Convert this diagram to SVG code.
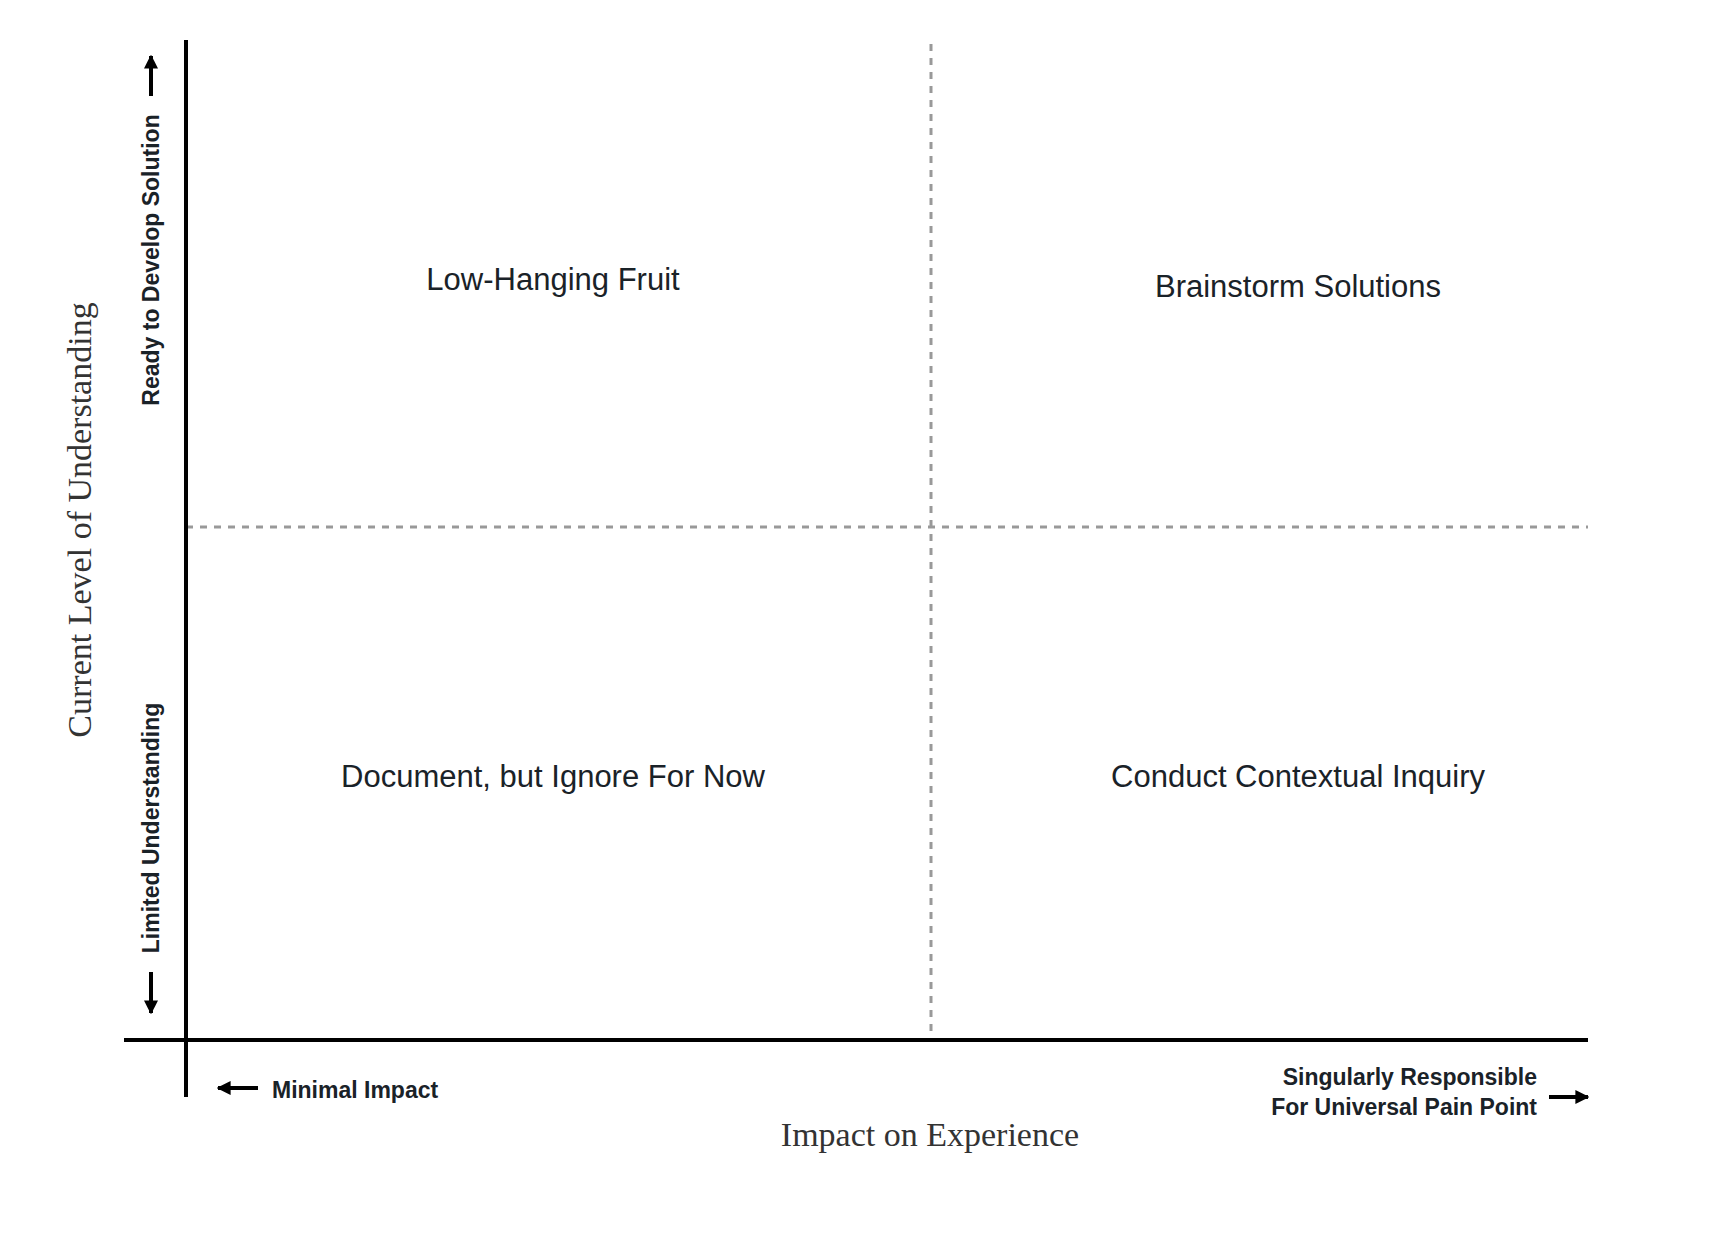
<svg xmlns="http://www.w3.org/2000/svg" width="1732" height="1238" viewBox="0 0 1732 1238">
<style>
.q{font-family:"Liberation Sans",Arial,sans-serif;font-size:31px;fill:#1a2228;text-anchor:middle}
.b{font-family:"Liberation Sans",Arial,sans-serif;font-size:23px;font-weight:bold;fill:#1a2228}
.s{font-family:"Liberation Serif","DejaVu Serif",serif;font-size:34px;fill:#333;text-anchor:middle}
.ax{stroke:#000;stroke-width:4;fill:none}
.d{stroke:#999;stroke-width:3;stroke-dasharray:7 7;fill:none}
</style>
<defs><marker id="ah" viewBox="0 0 10 10" refX="9" refY="5" markerWidth="3.5" markerHeight="3.5" orient="auto" markerUnits="strokeWidth"><path d="M0,0L10,5L0,10z" fill="#000"/></marker></defs>
<g id="connectors">
<line class="d" x1="931" y1="44" x2="931" y2="1040"/>
<line class="d" x1="186" y1="527" x2="1588" y2="527"/>
<line class="ax" x1="186" y1="40" x2="186" y2="1097"/>
<line class="ax" x1="124" y1="1040" x2="1588" y2="1040"/>
<line class="ax" x1="151" y1="96" x2="151" y2="56" marker-end="url(#ah)"/>
<line class="ax" x1="151" y1="972" x2="151" y2="1013" marker-end="url(#ah)"/>
<line class="ax" x1="258" y1="1088" x2="218" y2="1088" marker-end="url(#ah)"/>
<line class="ax" x1="1549" y1="1097" x2="1588" y2="1097" marker-end="url(#ah)"/>
</g>
<g id="q1"><text class="q" x="553" y="290">Low-Hanging Fruit</text></g>
<g id="q2"><text class="q" x="1298" y="297">Brainstorm Solutions</text></g>
<g id="q3"><text class="q" x="553" y="787">Document, but Ignore For Now</text></g>
<g id="q4"><text class="q" x="1298" y="787">Conduct Contextual Inquiry</text></g>
<g id="labels">
<text class="s" transform="translate(91,520) rotate(-90)">Current Level of Understanding</text>
<text class="b" text-anchor="middle" transform="translate(159,260) rotate(-90)">Ready to Develop Solution</text>
<text class="b" text-anchor="middle" transform="translate(159,828) rotate(-90)">Limited Understanding</text>
<text class="b" x="272" y="1098" font-size="24">Minimal Impact</text>
<text class="b" x="1537" y="1085" text-anchor="end">Singularly Responsible</text>
<text class="b" x="1537" y="1115" text-anchor="end">For Universal Pain Point</text>
<text class="s" x="930" y="1146">Impact on Experience</text>
</g>
</svg>
